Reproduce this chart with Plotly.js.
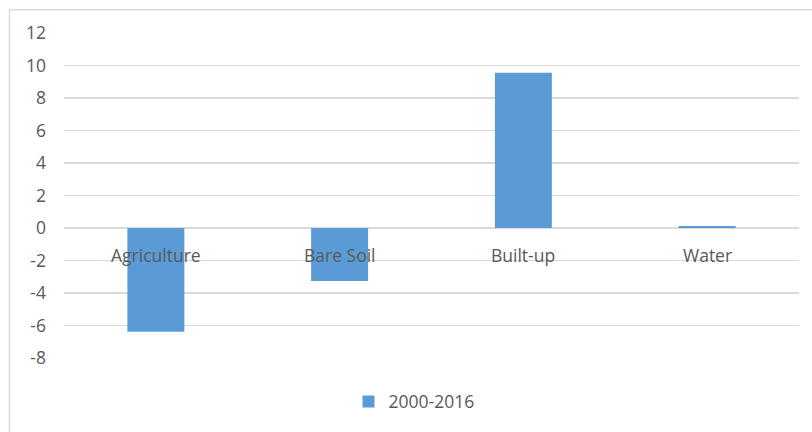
<!DOCTYPE html>
<html>
<head>
<meta charset="utf-8">
<script src="https://cdn.plot.ly/plotly-3.0.1.min.js"></script>
<style>
html,body{margin:0;padding:0;background:#fff;}
#chart{width:812px;height:432px;}
</style>
</head>
<body>
<div id="chart"></div>
<script>
const categories = ["Agriculture", "Bare Soil", "Built-up", "Water"];
const values = [-6.38, -3.26, 9.55, 0.12];
const seriesName = "2000-2016";
const yTicks = [-8, -6, -4, -2, 0, 2, 4, 6, 8, 10, 12];
const yTickText = ["-8", "-6", "-4", "-2", "0", "2", "4", "6", "8", "10", "12"];

const W = 812, H = 432;
const m = {l: 64, r: 13, t: 33, b: 72};
const pw = W - m.l - m.r, ph = H - m.t - m.b;
const px = v => (v - m.l) / pw;
const py = v => (H - m.b - v) / ph;

const fontFam = "'Open Sans', Lato, sans-serif";
const fs = 17.5;

const data = [{
  type: "bar",
  x: categories,
  y: values,
  name: seriesName,
  marker: {color: "#5b9bd5"},
  showlegend: true
}];

const annotations = categories.map(c => ({
  x: c, y: 0, xref: "x", yref: "y",
  text: c, showarrow: false,
  yanchor: "top", yshift: -13,
  font: {family: fontFam, size: fs, color: "#595959"}
}));

const layout = {
  width: W, height: H,
  margin: m,
  paper_bgcolor: "#fff",
  plot_bgcolor: "#fff",
  bargap: 0.69,
  font: {family: fontFam, color: "#595959"},
  xaxis: {
    showticklabels: false, showgrid: false, zeroline: false,
    showline: false, ticks: ""
  },
  yaxis: {
    range: [-8, 12], tickvals: yTicks, ticktext: yTickText,
    showgrid: true, gridcolor: "#d9d9d9", gridwidth: 1.5,
    zeroline: false, showline: false, ticks: "",
    ticklabelstandoff: 17,
    tickfont: {family: fontFam, size: fs, color: "#595959"}
  },
  legend: {
    orientation: "h", x: px(414), xanchor: "center",
    y: py(404), yanchor: "middle",
    itemwidth: 30,
    font: {family: fontFam, size: fs, color: "#595959"}
  },
  annotations: annotations,
  shapes: [{
    type: "rect", xref: "paper", yref: "paper",
    x0: px(9.5), x1: px(830), y0: py(460), y1: py(9.5),
    line: {color: "#d9d9d9", width: 1.5}, fillcolor: "rgba(0,0,0,0)",
    layer: "below"
  }]
};

Plotly.newPlot("chart", data, layout, {displayModeBar: false, staticPlot: true});
</script>
</body>
</html>
